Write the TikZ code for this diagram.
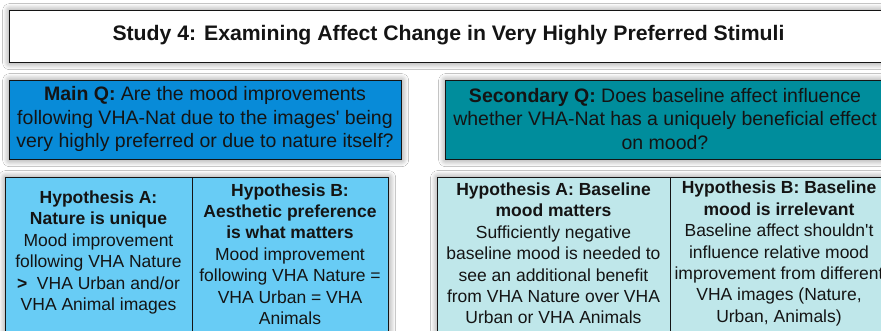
\documentclass[tikz,border=0pt]{standalone}
\usepackage{fontspec}
\usepackage{graphicx}
\setmainfont{Liberation Sans}
\usetikzlibrary{shadows.blur}
\definecolor{mainblue}{RGB}{8,139,216}
\definecolor{secteal}{RGB}{0,141,156}
\definecolor{hypblue}{RGB}{104,204,245}
\definecolor{hyppale}{RGB}{191,231,234}
\definecolor{ink}{RGB}{20,20,20}
\begin{document}
\begin{tikzpicture}[x=1pt,y=-1pt,
  box/.style={draw=ink, line width=1.3pt, inner sep=0pt, anchor=north west,
    blur shadow={shadow xshift=0pt, shadow yshift=0pt, shadow blur radius=7pt, shadow blur steps=12, shadow opacity=50}},
  col/.style={draw=ink, line width=1.3pt, inner sep=0pt, anchor=north west},
  qtxt/.style={align=center, text=ink, inner sep=0pt, font=\fontsize{19.5}{23.5}\selectfont},
  htxt/.style={align=center, text=ink, inner sep=0pt, font=\fontsize{17.5}{21.4}\selectfont}]
\useasboundingbox (0,0) rectangle (881,331);
\fill[white] (0,0) rectangle (881,331);
\clip (0,0) rectangle (881,331);
% title
\node[box, fill=white, minimum width=879pt, minimum height=52pt] (title) at (9,10) {};
\node[text=ink, inner sep=0pt, font=\fontsize{21}{24}\selectfont\bfseries] (titletxt) at (448.5,35)
  {\resizebox{672pt}{\height}{Study 4: Examining Affect Change in Very Highly Preferred Stimuli}};
% questions
\node[box, fill=mainblue, minimum width=392pt, minimum height=79pt] (mainq) at (9,80) {};
\node[qtxt] (mainqtxt) at (205,119) {\textbf{Main Q:} Are the mood improvements\\following VHA-Nat due to the images\textquotesingle{} being\\very highly preferred or due to nature itself?};
\node[box, fill=secteal, minimum width=440pt, minimum height=79pt] (secq) at (445,80) {};
\node[qtxt] (secqtxt) at (665,119) {\textbf{Secondary Q:} Does baseline affect influence\\whether VHA-Nat has a uniquely beneficial effect\\on mood?};
% left hypotheses
\node[box, fill=hypblue, minimum width=383pt, minimum height=170pt] (hypL) at (5,177) {};
\node[col, minimum width=187pt, minimum height=170pt] (hypLA) at (5,177) {};
\node[col, minimum width=196pt, minimum height=170pt] (hypLB) at (192,177) {};
\node[htxt] (hypLAtxt) at (98.5,252.5) {\textbf{Hypothesis A:}\\\textbf{Nature is unique}\\Mood improvement\\following VHA Nature\\\textbf{>}~~VHA Urban and/or\\VHA Animal images};
\node[htxt] (hypLBtxt) at (290,254) {\textbf{Hypothesis B:}\\\textbf{Aesthetic preference}\\\textbf{is what matters}\\Mood improvement\\following VHA Nature =\\VHA Urban = VHA\\Animals};
% right hypotheses
\node[box, fill=hyppale, minimum width=450pt, minimum height=170pt] (hypR) at (437,177) {};
\node[col, minimum width=233pt, minimum height=170pt] (hypRA) at (437,177) {};
\node[col, minimum width=217pt, minimum height=170pt] (hypRB) at (670,177) {};
\node[htxt] (hypRAtxt) at (553.5,253.5) {\textbf{Hypothesis A: Baseline}\\\textbf{mood matters}\\Sufficiently negative\\baseline mood is needed to\\see an additional benefit\\from VHA Nature over VHA\\Urban or VHA Animals};
\node[htxt] (hypRBtxt) at (779,253.5) {\textbf{Hypothesis B: Baseline}\\\textbf{mood is irrelevant}\\Baseline affect shouldn\textquotesingle{}t\\influence relative mood\\improvement from different\\VHA images (Nature,\\Urban, Animals)};
\end{tikzpicture}
\end{document}
